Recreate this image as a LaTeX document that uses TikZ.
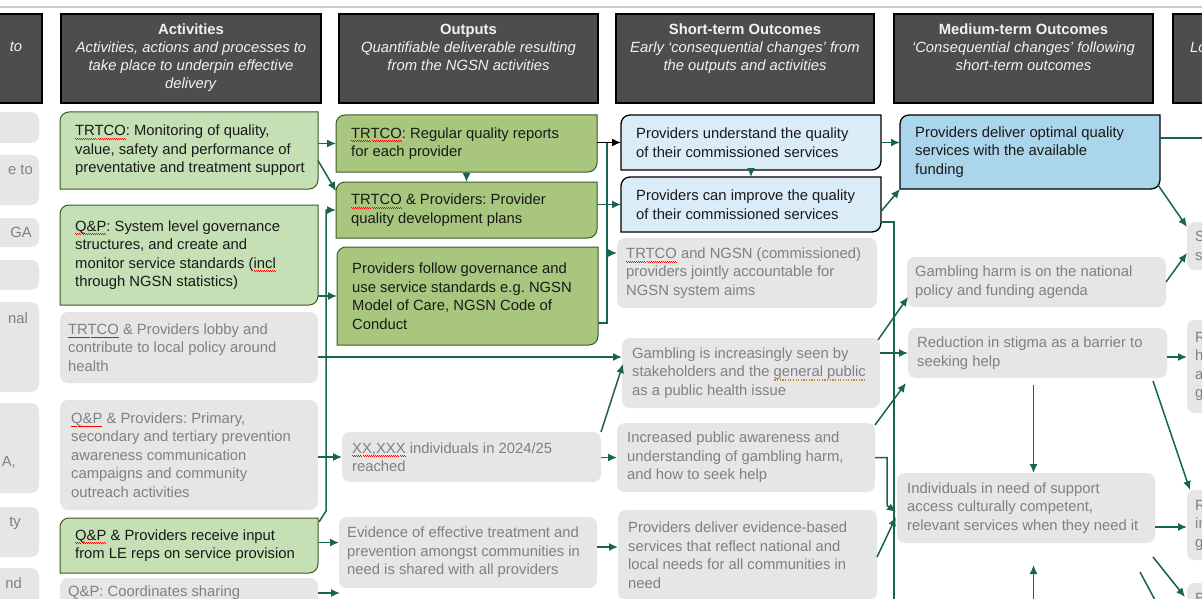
\documentclass[tikz,border=0pt]{standalone}
\usepackage{fontspec}
\setmainfont{Liberation Sans}
\usetikzlibrary{arrows.meta,calc}
\frenchspacing
\definecolor{headfill}{RGB}{77,77,77}
\definecolor{headtext}{RGB}{242,242,242}
\definecolor{greenA}{RGB}{197,224,180}
\definecolor{greenO}{RGB}{169,198,126}
\definecolor{greenline}{RGB}{60,90,40}
\definecolor{blueS}{RGB}{218,236,247}
\definecolor{blueM}{RGB}{170,213,234}
\definecolor{greyfill}{RGB}{230,230,230}
\definecolor{greytext}{RGB}{128,128,128}
\definecolor{conncol}{RGB}{24,100,82}
\definecolor{dotbrown}{RGB}{190,140,40}
\definecolor{toprule}{RGB}{205,205,205}
\newsavebox\lmsqbox
\newcommand\sq[1]{\sbox\lmsqbox{#1}\leavevmode\rlap{\usebox\lmsqbox}{\color{red}\hbox to \wd\lmsqbox{\xleaders\hbox{\vrule width 1pt height -2.3pt depth 3.3pt\vrule width 1pt height -3.2pt depth 4.2pt}\hfil}}}
\newcommand\dq[1]{\sbox\lmsqbox{#1}\leavevmode\rlap{\usebox\lmsqbox}{\color{dotbrown}\hbox to \wd\lmsqbox{\xleaders\hbox{\kern0.7pt\vrule width 1.2pt height -2.6pt depth 3.8pt\kern0.7pt}\hfil}}}
\tikzset{
  conn/.style={draw=conncol, line width=1.5pt, -{Latex[length=9pt,width=8pt]}},
  connplain/.style={draw=conncol, line width=1.5pt},
  connblack/.style={draw=black, line width=1.5pt, -{Latex[length=9pt,width=8pt]}},
  greenAshape/.style={fill=greenA, draw=greenline, line width=1pt},
  greenOshape/.style={fill=greenO, draw=greenline, line width=1pt},
  blueSshape/.style={fill=blueS, draw=black, line width=1.3pt},
  blueMshape/.style={fill=blueM, draw=black, line width=1.3pt},
  greyshape/.style={fill=greyfill},
  bodyfont/.style={font=\fontsize{14.8}{18.5}\selectfont\frenchspacing},
  darktext/.style={bodyfont, text=black!90, inner xsep=15pt, inner ysep=0pt, align=left},
  greytxt/.style={bodyfont, text=greytext, inner xsep=9pt, inner ysep=0pt, align=left},
  fragtxt/.style={bodyfont, text=greytext, inner sep=0pt},
  anchorbox/.style={inner sep=0pt, outer sep=0pt},
  headshape/.style={fill=headfill, draw=black, line width=1.3pt},
  headtxt/.style={font=\fontsize{14.8}{18}\selectfont\frenchspacing, text=headtext, align=center, inner sep=0pt},
}
% diagonal-rounded box: #1 shape style, #2 text style, #3 name, #4 x1, #5 y1, #6 x2, #7 y2, #8 text
\newcommand\dbox[8]{%
  \path[#1] (#4,#5+9) .. controls (#4,#5+4) and (#4+4,#5) .. (#4+9,#5) -- (#6,#5) -- (#6,#7-9) .. controls (#6,#7-4) and (#6-4,#7) .. (#6-9,#7) -- (#4,#7) -- cycle;
  \pgfmathsetmacro\lmbw{#6-#4}\pgfmathsetmacro\lmbh{#7-#5}%
  \node[anchorbox, minimum width=\lmbw pt, minimum height=\lmbh pt] (#3) at ({(#4+#6)/2},{(#5+#7)/2}) {};
  \node[#2, anchor=west] (#3t) at (#4,{(#5+#7)/2}) {#8};
}
% grey rounded box: [#1 extra text style], #2 name, #3 x1, #4 y1, #5 x2, #6 y2, #7 text
\newcommand\rbox[7][]{%
  \path[greyshape, rounded corners=8pt] (#3,#4) rectangle (#5,#6);
  \pgfmathsetmacro\lmbw{#5-#3}\pgfmathsetmacro\lmbh{#6-#4}%
  \node[anchorbox, minimum width=\lmbw pt, minimum height=\lmbh pt] (#2) at ({(#3+#5)/2},{(#4+#6)/2}) {};
  \node[greytxt, #1, anchor=west] (#2t) at (#3,{(#4+#6)/2}) {#7};
}
% header: #1 name, #2 x1, #3 x2, #4 text
\newcommand\headbox[4]{%
  \path[headshape] (#2,14) rectangle (#3,103);
  \node[headtxt, anchor=north] (#1) at ({(#2+#3)/2},24) {#4};
}
\begin{document}
\begin{tikzpicture}[x=1pt,y=-1pt]
\useasboundingbox (0,0) rectangle (1202,599);
\clip (0,0) rectangle (1202,599);
\fill[white] (0,0) rectangle (1202,599);
\draw[toprule, line width=2pt] (0,7) -- (1202,7);

% headers
\path[headshape] (-40,14) rectangle (42,103);
\node[headtxt] (H0) at (16,47) {\textit{to}};
\headbox{H1}{61}{321}{\textbf{Activities}\\ \textit{Activities, actions and processes to}\\ \textit{take place to underpin effective}\\ \textit{delivery}}
\headbox{H2}{339}{598}{\textbf{Outputs}\\ \textit{Quantifiable deliverable resulting}\\ \textit{from the NGSN activities}}
\headbox{H3}{616}{874}{\textbf{Short-term Outcomes}\\ \textit{Early ‘consequential changes’ from}\\ \textit{the outputs and activities}}
\headbox{H4}{894}{1153}{\textbf{Medium-term Outcomes}\\ \textit{‘Consequential changes’ following}\\ \textit{short-term outcomes}}
\path[headshape] (1173,14) rectangle (1260,103);
\node[headtxt, anchor=west] (H5) at (1190,47) {\textit{Lo}};

% left partial column
\rbox{L1}{-30}{112}{39}{143}{}
\rbox{L2}{-30}{155}{39}{205}{}
\rbox{L3}{-30}{218}{39}{247}{}
\rbox{L4}{-30}{260}{39}{290}{}
\rbox{L5}{-30}{302}{39}{392}{}
\rbox{L6}{-30}{403}{39}{493}{}
\rbox{L7}{-30}{507}{39}{557}{}
\rbox{L8}{-30}{568}{39}{640}{}
\node[fragtxt, anchor=east] (F2) at (33,170) {e to};
\node[fragtxt, anchor=east] (F3) at (32,232) {GA};
\node[fragtxt, anchor=east] (F5) at (28,318) {nal};
\node[fragtxt, anchor=east] (F6) at (16,462) {A,};
\node[fragtxt, anchor=east] (F7) at (21,523) {ty};
\node[fragtxt, anchor=east] (F8) at (22,583) {nd};

% activities
\dbox{greenAshape}{darktext}{A1}{60}{112}{318}{189}{\sq{TRTCO}: Monitoring of quality,\\ value, safety and performance of\\ preventative and treatment support}
\dbox{greenAshape}{darktext}{A2}{60}{205}{318}{305}{\sq{Q\&P}: System level governance\\ structures, and create and\\ monitor service standards (\sq{incl}\\ through NGSN statistics)}
\rbox[inner xsep=8pt]{A3}{60}{312}{318}{383}{\sq{TRTCO} \& Providers lobby and\\ contribute to local policy around\\ health}
\rbox[inner xsep=11pt]{A4}{60}{400}{318}{510}{\sq{Q\&P} \& Providers: Primary,\\ secondary and tertiary prevention\\ awareness communication\\ campaigns and community\\ outreach activities}
\dbox{greenAshape}{darktext}{A5}{60}{518}{318}{573}{\sq{Q\&P} \& Providers receive input\\ from LE reps on service provision}
\rbox[inner xsep=8pt]{A6}{60}{578}{318}{608}{\sq{Q\&P}: Coordinates sharing}

% outputs
\dbox{greenOshape}{darktext}{O1}{336}{115}{597}{172}{\sq{TRTCO}: Regular quality reports\\ for each provider}
\dbox{greenOshape}{darktext}{O2}{336}{182}{597}{238}{\sq{TRTCO} \& Providers: Provider\\ quality development plans}
\dbox{greenOshape}{darktext}{O3}{337}{247}{598}{345}{Providers follow governance and\\ use service standards e.g. NGSN\\ Model of Care, NGSN Code of\\ Conduct}
\rbox[inner xsep=10pt]{O4}{342}{432}{601}{482}{\sq{XX,XXX} individuals in 2024/25\\ reached}
\rbox[inner xsep=8pt]{O5}{339}{517}{597}{588}{Evidence of effective treatment and\\ prevention amongst communities in\\ need is shared with all providers}

% short-term
\dbox{blueSshape}{darktext}{S1}{621}{115}{881}{170}{Providers understand the quality\\ of their commissioned services}
\dbox{blueSshape}{darktext}{S2}{621}{177}{881}{232}{Providers can improve the quality\\ of their commissioned services}
\rbox{S3}{617}{238}{877}{308}{\sq{TRTCO} and NGSN (commissioned)\\ providers jointly accountable for\\ NGSN system aims}
\rbox[inner xsep=10pt]{S4}{622}{338}{880}{408}{Gambling is increasingly seen by\\ stakeholders and the \dq{general public}\\ as a public health issue}
\rbox[inner xsep=10pt]{S5}{617}{423}{875}{492}{Increased public awareness and\\ understanding of gambling harm,\\ and how to seek help}
\rbox[inner xsep=10pt]{S6}{618}{510}{877}{600}{Providers deliver evidence-based\\ services that reflect national and\\ local needs for all communities in\\ need}

% medium-term
\dbox{blueMshape}{darktext}{M1}{900}{115}{1160}{189}{Providers deliver optimal quality\\ services with the available\\ funding}
\rbox[inner xsep=8pt]{M2}{907}{257}{1166}{307}{Gambling harm is on the national\\ policy and funding agenda}
\rbox{M3}{908}{328}{1167}{378}{Reduction in stigma as a barrier to\\ seeking help}
\rbox[inner xsep=10pt]{M4}{897}{473}{1155}{543}{Individuals in need of support\\ access culturally competent,\\ relevant services when they need it}

% right partial column
\rbox[inner xsep=8pt]{R1}{1187}{222}{1260}{270}{S\\ s}
\rbox[inner xsep=8pt]{R2}{1187}{320}{1260}{413}{R\\ h\\ a\\ g}
\rbox[inner xsep=8pt]{R3}{1187}{490}{1260}{560}{R\\ in\\ g}
\rbox[inner xsep=8pt]{R4}{1187}{583}{1260}{613}{E}

% connectors: activities -> outputs
\draw[conn] (A1.east |- O1.west) -- (O1.west);
\draw[conn] ($(A1.east)+(0,10)$) -- ($(O2.north west)+(0,9)$);
\draw[conn] (A2.east |- O3.west) -- (O3.west);
\draw[conn] ($(A5.north east)+(1,4)$) -- ($(A5.north east)+(8,-7)$) |- (O2.west);
\coordinate (s4in) at ($(S4.north west)+(0,19)$);
\draw[conn] (A3.east |- s4in) -- (s4in);
\draw[conn] (A4.east |- O4.west) -- (O4.west);
\coordinate (o5in) at ($(O5.west)+(0,-10)$);
\draw[conn] (A5.east |- o5in) -- (o5in);
\coordinate (a6out) at ($(A6.east)+(22,0)$);
\draw[conn] (A6.east) -- (a6out);

% outputs -> short-term
\draw[conn] (O1.south) -- (O2.north);
\coordinate (busO) at ($(O1.east |- S1.west)+(10,0)$);
\draw[connplain] ($(O3.south east)+(0,-22)$) -| (busO);
\draw[connblack] (O1.east |- S1.west) -- (S1.west);
\draw[conn] (O2.east |- S2.west) -- (S2.west);
\coordinate (s3in) at ($(S3.north west)+(0,15)$);
\draw[conn] (busO |- s3in) -- (s3in);
\draw[conn] (O4.north east) -- ($(S4.north west)+(1,26)$);
\draw[conn] (O4.east |- S5.west) -- (S5.west);
\coordinate (s6in) at ($(S6.west)+(0,-8)$);
\draw[conn] (O5.east |- s6in) -- (s6in);

% short-term -> medium-term
\draw[conn] (S1.south) -- (S2.north);
\draw[conn] (S1.east) -- (S1.east -| M1.west);
\draw[conn] ($(S2.east)+(0,7)$) -- (M1.south west);
\coordinate (bus2) at ($(S2.south east)+(13,400)$);
\draw[connplain] ($(S2.south east)+(0,-10)$) -| (bus2);
\draw[conn] ($(S4.north east)+(-2,2)$) -- ($(M2.south west)+(1,-10)$);
\draw[conn] (S4.east |- M3.west) -- (M3.west);
\draw[conn] ($(S5.north east)+(0,2)$) -- ($(M3.south west)+(-2,5)$);
\draw[conn] (S5.east) -| ($(S5.east)+(12,48)$) -- ($(M4.west)+(-1,4)$);
\draw[conn] ($(S6.east)+(0,2)$) -- ($(M4.west)+(-1,9)$);

% medium-term -> right
\coordinate (m1out) at ($(M1.north east)+(60,23)$);
\draw[connplain] ($(M1.north east)+(0,23)$) -- (m1out);
\draw[conn] ($(M1.south east)+(-2,-4)$) -- ($(R1.north west)+(0,5)$);
\draw[conn] (M2.east) -- ($(R1.west)+(0,7)$);
\coordinate (r2in) at ($(R2.west |- M3.east)+(0,4)$);
\draw[conn] ($(M3.east)+(0,4)$) -- (r2in);
\draw[conn] ($(M3.south east)+(-14,3)$) -- ($(R3.north west)+(3,0)$);
\coordinate (r3in) at ($(R3.west |- M4.east)+(0,19)$);
\draw[conn] ($(M4.east)+(0,19)$) -- (r3in);
\draw[conn] ($(M3.south)+(-4,7)$) -- ($(M4.north)+(7.5,0)$);
\coordinate (m4below) at ($(M4.south)+(7.5,80)$);
\draw[conn] (m4below) -- ($(M4.south)+(7.5,22)$);
\draw[conn] ($(M4.south east)+(-2,14)$) -- ($(R4.north west)+(-2,14)$);
\coordinate (lrout) at ($(M4.south east)+(7,70)$);
\draw[connplain] ($(M4.south east)+(-15,29)$) -- (lrout);
\end{tikzpicture}
\end{document}
